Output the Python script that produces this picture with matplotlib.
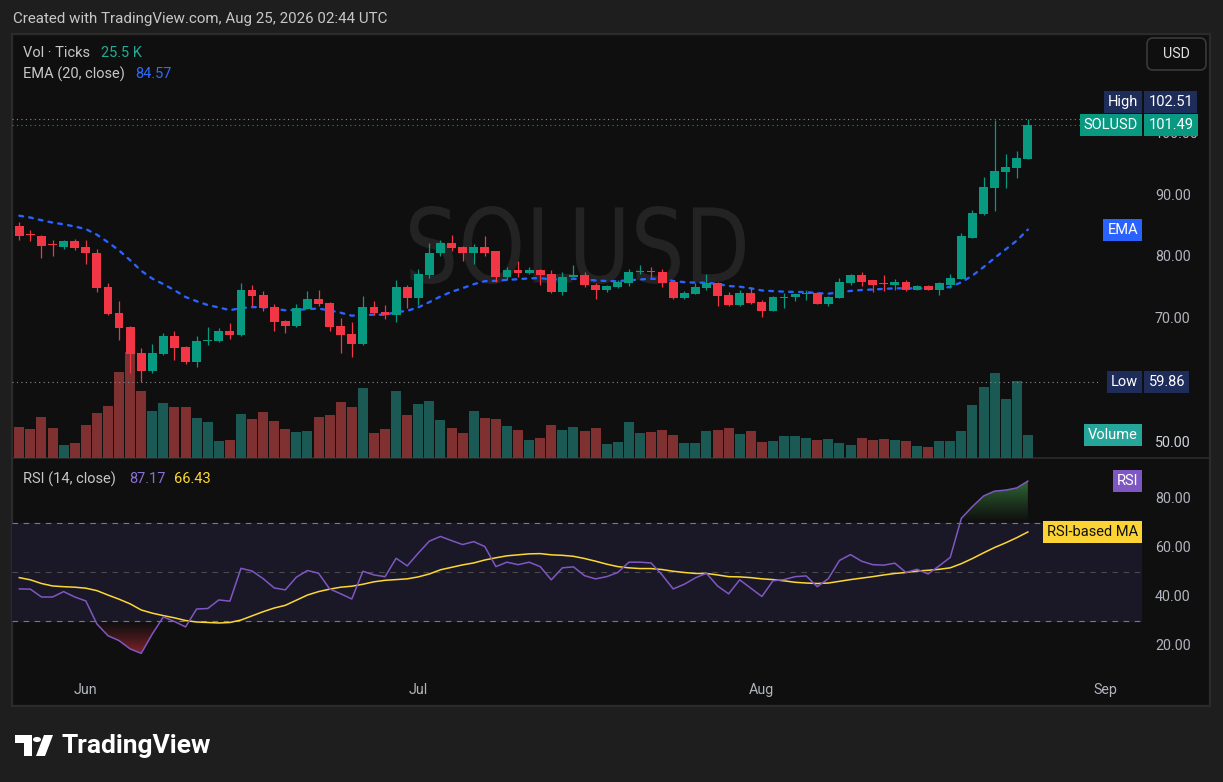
"""
SOLUSD daily chart in TradingView dark style: candles, volume, EMA(20) and RSI(14).
"""

import numpy as np
import pandas as pd
import matplotlib
matplotlib.use("Agg")  # headless
import matplotlib.pyplot as plt
import matplotlib.dates as mdates
from matplotlib.path import Path
from matplotlib.patches import Rectangle, FancyBboxPatch, PathPatch, Polygon, Circle
from matplotlib.lines import Line2D
from matplotlib.textpath import TextPath
from matplotlib.font_manager import FontProperties
from matplotlib.transforms import Affine2D, offset_copy

plt.rcParams["font.family"] = ["Roboto", "DejaVu Sans"]

# ---------------------------------------------------------------- data
start_day = "2026-05-26"

opens = [85.16, 83.75, 83.55, 82.15, 81.77, 82.74, 81.77, 80.8, 75.16, 70.97,
         68.7, 64.5, 61.6, 64.35, 67.26, 65.5, 63.06, 66.4, 66.45, 68.06,
         67.4, 74.7, 73.9, 71.94, 69.7, 68.9, 71.6, 73.2, 72.6, 68.9,
         67.6, 65.97, 71.94, 71.1, 70.65, 75.16, 73.4, 77.1, 80.65, 82.4,
         81.77, 80.65, 81.77, 81.0, 76.77, 77.9, 77.4, 77.9, 77.26, 74.35,
         76.8, 77.1, 75.6, 74.7, 75.16, 75.8, 77.6, 77.75, 77.6, 75.97,
         73.4, 74.0, 75.0, 75.8, 73.9, 72.26, 74.2, 72.7, 71.3, 73.5,
         73.55, 74.1, 74.2, 72.4, 73.4, 75.8, 77.1, 76.3, 75.8, 75.5,
         75.97, 74.8, 75.3, 74.7, 75.6, 76.45, 83.2, 87.1, 91.3, 93.87,
         94.5, 95.97]
highs = [85.8, 84.5, 83.6, 82.9, 82.9, 83.06, 82.9, 81.3, 75.8, 72.9,
         68.9, 65.3, 66.0, 67.7, 68.06, 65.6, 67.26, 68.7, 68.5, 69.35,
         75.8, 75.5, 74.5, 72.4, 69.8, 72.4, 74.5, 74.8, 72.7, 70.16,
         69.5, 73.7, 72.9, 72.26, 76.3, 75.6, 78.06, 82.4, 82.9, 83.7,
         81.9, 82.1, 83.4, 81.1, 78.5, 79.35, 78.5, 78.06, 77.9, 77.6,
         78.7, 77.6, 75.8, 75.5, 76.3, 78.06, 78.7, 78.5, 78.2, 76.1,
         74.5, 75.8, 77.26, 75.97, 74.35, 74.8, 75.0, 73.06, 73.7, 74.2,
         74.2, 74.7, 74.35, 73.7, 76.6, 77.26, 77.6, 76.3, 77.1, 76.45,
         76.3, 75.5, 75.5, 75.97, 77.26, 84.0, 87.7, 93.06, 102.26, 96.77,
         97.26, 102.51]
lows = [82.9, 82.6, 79.9, 80.2, 81.3, 81.2, 78.9, 74.35, 70.7, 66.66,
        61.3, 59.86, 61.3, 64.2, 63.4, 62.74, 62.26, 65.8, 66.3, 66.8,
        67.3, 72.1, 71.3, 68.06, 67.7, 68.7, 71.6, 72.1, 68.06, 64.5,
        63.9, 65.8, 70.65, 70.0, 69.5, 71.8, 72.26, 76.6, 80.2, 81.1,
        79.5, 79.0, 80.2, 76.1, 76.3, 76.9, 77.26, 75.5, 74.2, 73.9,
        76.8, 75.16, 73.2, 74.35, 75.0, 75.3, 77.26, 76.77, 75.16, 73.2,
        73.2, 74.0, 74.8, 72.1, 72.1, 72.1, 72.4, 70.3, 71.3, 71.8,
        72.9, 73.06, 72.4, 72.1, 73.4, 75.5, 75.3, 74.35, 74.5, 74.8,
        74.5, 74.8, 74.7, 73.9, 75.0, 76.45, 83.2, 86.9, 87.6, 91.3,
        92.9, 95.97]
closes = [83.55, 83.65, 81.9, 82.05, 82.74, 81.6, 80.65, 75.0, 70.85, 68.6,
          64.4, 61.6, 64.5, 67.26, 65.3, 63.06, 66.45, 66.5, 68.06, 67.4,
          74.7, 73.7, 71.8, 69.5, 68.9, 71.8, 73.2, 72.4, 68.7, 67.4,
          65.97, 71.94, 70.97, 70.65, 75.16, 73.4, 77.26, 80.8, 82.4, 81.6,
          80.65, 81.77, 80.8, 76.77, 77.9, 77.4, 77.9, 77.1, 74.35, 76.9,
          77.1, 75.5, 74.7, 75.3, 75.97, 77.6, 77.7, 77.7, 75.8, 73.4,
          74.2, 75.16, 75.8, 73.7, 72.26, 74.2, 72.6, 71.3, 73.55, 73.6,
          74.0, 74.2, 72.4, 73.55, 75.97, 77.1, 76.1, 75.6, 75.75, 75.97,
          74.8, 75.3, 74.7, 75.8, 76.6, 83.4, 87.26, 91.45, 94.0, 94.68,
          96.1, 101.49]

# volume in thousands of ticks
volume = [34.4, 32.2, 45.5, 33.3, 14.4, 16.6, 36.6, 49.9, 57.7, 95.4,
          117.5, 74.3, 52.1, 61.0, 56.5, 56.5, 44.4, 39.9, 18.8, 20.0,
          48.8, 43.2, 51.0, 41.0, 32.2, 28.8, 29.9, 45.5, 47.7, 62.1,
          56.5, 77.6, 27.7, 32.2, 74.3, 47.7, 59.9, 63.2, 42.1, 33.3,
          27.7, 52.1, 44.4, 43.2, 35.5, 31.0, 20.0, 22.2, 36.6, 31.0,
          34.4, 29.9, 33.3, 15.5, 17.7, 39.9, 27.7, 28.8, 31.0, 25.5,
          16.6, 16.6, 29.9, 31.0, 33.3, 26.6, 29.9, 17.7, 18.8, 24.4,
          24.4, 22.2, 20.0, 21.1, 16.6, 14.4, 22.2, 20.0, 21.1, 20.0,
          18.8, 13.3, 12.2, 18.8, 18.8, 29.9, 58.8, 78.7, 94.2, 65.4,
          85.4, 25.5]

rsi = [43.2, 43.1, 39.9, 39.9, 42.1, 39.9, 38.3, 28.9, 24.1, 22.1,
       18.7, 16.9, 24.8, 31.8, 29.9, 27.7, 35.0, 35.2, 38.7, 38.2,
       51.6, 50.5, 47.4, 43.6, 42.8, 48.0, 50.7, 49.6, 43.2, 41.2,
       39.1, 50.4, 48.9, 48.2, 55.7, 52.6, 57.8, 62.7, 64.6, 62.9,
       61.3, 62.5, 60.5, 52.3, 54.1, 53.1, 54.1, 52.3, 46.9, 51.8,
       52.2, 48.6, 47.3, 48.2, 49.9, 54.1, 54.1, 53.8, 48.9, 43.2,
       45.1, 47.7, 49.6, 44.4, 41.2, 46.9, 43.5, 40.1, 46.5, 47.0,
       48.2, 48.5, 44.1, 47.4, 54.8, 57.2, 54.5, 53.1, 52.9, 53.7,
       49.9, 51.2, 49.3, 52.6, 56.1, 72.0, 76.8, 81.1, 83.1, 83.5,
       84.4, 87.17]
rsi_ma = [47.8, 46.9, 45.4, 44.4, 44.1, 43.9, 43.5, 42.5, 40.7, 39.0,
          37.1, 34.6, 33.3, 32.3, 31.4, 30.3, 29.7, 29.5, 29.3, 29.5,
          30.5, 32.2, 33.9, 35.4, 36.5, 38.6, 40.7, 42.1, 43.1, 43.9,
          44.3, 45.1, 46.1, 46.7, 47.0, 47.3, 48.1, 49.3, 51.0, 52.0,
          53.0, 53.8, 55.0, 55.9, 56.7, 57.1, 57.5, 57.6, 57.1, 56.9,
          56.5, 55.6, 54.5, 53.3, 52.3, 51.8, 51.5, 51.5, 51.1, 50.4,
          49.9, 49.5, 49.5, 48.9, 48.2, 48.1, 47.8, 47.3, 47.0, 46.5,
          45.9, 45.6, 45.4, 45.6, 46.3, 47.0, 47.6, 48.2, 48.9, 49.5,
          49.9, 50.5, 50.8, 51.2, 51.8, 53.5, 55.6, 57.9, 60.1, 62.0,
          64.1, 66.43]

ema_prev = 87.1          # EMA value on the bar before the first visible one
ema_len = 20
ema_shown = "84.57"      # legend value as printed on the chart
price_ticks = [50, 70, 80, 90, 100]
rsi_ticks = [20, 40, 60, 80]
month_ticks = ["2026-06-01", "2026-07-01", "2026-08-01", "2026-09-01"]
month_labels = ["Jun", "Jul", "Aug", "Sep"]

# ---------------------------------------------------------------- style
W, H = 1223, 782
BG_OUT = "#1e1e1e"
BG_IN = "#0f0f0f"
UP, DOWN = "#089981", "#f23645"
VOL_UP, VOL_DOWN = "#1b5a54", "#7f3030"
GRID_TXT = "#b2b5be"
NAVY = "#1e2c5a"
LEG_FS = 10.5


def fx(px):
    return px / W


def fy(py):
    return 1 - py / H


def tag(axis, y, text, fc, tc="white", side="left", dy=0):
    """Price-scale label box, left of or on the price axis (dy in pixels)."""
    x, ha = (0.9966, "right") if side == "left" else (1.0058, "left")
    tr = offset_copy(axis.get_yaxis_transform(), fig=axis.figure, y=dy, units="dots")
    axis.text(x, y, text, transform=tr, ha=ha, va="center", fontsize=10.5,
              color=tc, zorder=10, clip_on=False,
              bbox=dict(boxstyle="square,pad=0.28", fc=fc, ec="none"))


def gradient_fill(axis, x, y_line, level, where, rgb, dense_at):
    """Fill between a line and a level with a vertical alpha gradient."""
    coll = axis.fill_between(x, y_line, level, where=where, interpolate=True,
                             facecolor="none", edgecolor="none")
    paths = coll.get_paths()
    if not paths:
        return
    clip = Path.make_compound_path(*paths)
    y0, y1 = sorted([level, dense_at])
    a = np.linspace(0, 1, 256)
    if dense_at < level:
        a = a[::-1]
    img = np.zeros((256, 1, 4))
    img[:, 0, :3] = rgb
    img[:, 0, 3] = a ** 1.2
    im = axis.imshow(img, extent=[x[0], x[-1], y0, y1], origin="lower",
                     aspect="auto", zorder=1.5, interpolation="bilinear")
    im.set_clip_path(clip, axis.transData)


dates = pd.date_range(start_day, periods=len(closes), freq="D")
x = mdates.date2num(dates.to_pydatetime())
o, h, l, c = map(np.array, (opens, highs, lows, closes))
up = c >= o

alpha = 2 / (ema_len + 1)
ema = []
for close in closes:
    ema_prev = ema_prev + alpha * (close - ema_prev)
    ema.append(ema_prev)

# ---------------------------------------------------------------- figure
fig = plt.figure(figsize=(W / 100, H / 100), dpi=100, facecolor=BG_OUT)

fig.add_artist(Rectangle((fx(12), fy(706)), (1210 - 12) / W, (706 - 34) / H,
                         transform=fig.transFigure, fc=BG_IN, ec="#2b2b2b",
                         lw=1.6, zorder=-3))
fig.add_artist(Line2D([fx(12), fx(1210)], [fy(458.5)] * 2, color="#2b2b2b",
                      lw=1.2, zorder=-1))

# watermark
tp = TextPath((0, 0), "SOLUSD", size=100, prop=FontProperties(family="DejaVu Sans"))
ext = tp.get_extents()
wm_tr = (Affine2D().translate(-ext.x0, -ext.y0)
         .scale(335 / ext.width, 78 / ext.height).translate(410, H - 284))
fig.add_artist(PathPatch(tp, transform=wm_tr, fc="#232323", ec="none", zorder=-2))

ax_v = fig.add_axes([fx(12), fy(458), (1142 - 12) / W, (458 - 35) / H])
ax = fig.add_axes([fx(12), fy(458), (1142 - 12) / W, (458 - 35) / H], sharex=ax_v)
ax_r = fig.add_axes([fx(12), fy(672), (1142 - 12) / W, (672 - 459) / H], sharex=ax_v)

for a_ in (ax_v, ax, ax_r):
    a_.patch.set_visible(False)
    for s in a_.spines.values():
        s.set_visible(False)
    a_.tick_params(length=0, labelleft=False, labelright=False, labelbottom=False)

# volume
ax_v.bar(x, volume, width=0.9, color=np.where(up, VOL_UP, VOL_DOWN), zorder=1)
ax_v.set_ylim(0, 469)
tag(ax_v, volume[-1], "Volume", "#26a69a")

# candles
body_lo = np.minimum(o, c)
body_h = np.maximum(np.abs(c - o), 0.16)
cols = np.where(up, UP, DOWN)
ax.vlines(x, l, h, colors=cols, lw=0.9, zorder=3)
ax.bar(x, body_h, bottom=body_lo, width=0.8, color=cols, zorder=4)

# EMA
ax.plot(x, ema, color="#2962ff", lw=1.7, ls=(0, (1.6, 2.6)),
        dash_capstyle="round", zorder=2.5)

# high / last / low lines
hi_val, lo_val = max(highs), min(lows)
ax.axhline(hi_val, xmax=0.947, color="#8a8a8a", lw=0.8, ls=(0, (1, 3)), zorder=2)
ax.axhline(closes[-1], xmax=0.947, color=UP, lw=0.8, ls=(0, (1, 3)), zorder=2)
ax.axhline(lo_val, xmax=0.963, color="#8a8a8a", lw=0.8, ls=(0, (1, 3)), zorder=2)

ax.set_ylim(47.5, 116.05)
ax.set_xlim(x[0] - 0.66, x[0] + 101.3)

for p in price_ticks:
    ax.text(1.0115, p, f"{p:.2f}", transform=ax.get_yaxis_transform(),
            ha="left", va="center", fontsize=10.3,
            color="#d1d4dc" if p == 50 else GRID_TXT, zorder=5, clip_on=False)

tag(ax, hi_val, "High", NAVY, dy=16.5)
tag(ax, hi_val, f"{hi_val:.2f}", NAVY, side="right", dy=16.5)
tag(ax, closes[-1], "SOLUSD", UP)
tag(ax, closes[-1], f"{closes[-1]:.2f}", UP, side="right")
tag(ax, ema[-1], "EMA", "#2962ff")
tag(ax, lo_val, "Low", NAVY)
tag(ax, lo_val, f"{lo_val:.2f}", NAVY, side="right")

# RSI panel
ax_r.axhspan(30, 70, color="#1a1826", zorder=0)
ax_r.axhline(70, color="#787b86", lw=0.8, ls=(0, (5, 5)), zorder=1)
ax_r.axhline(30, color="#787b86", lw=0.8, ls=(0, (5, 5)), zorder=1)
ax_r.axhline(50, color="#4a4a4a", lw=0.8, ls=(0, (5, 5)), zorder=1)
r = np.array(rsi)
gradient_fill(ax_r, x, r, 70, r >= 70, (0.20, 0.45, 0.22), 88)
gradient_fill(ax_r, x, r, 30, r <= 30, (0.55, 0.15, 0.18), 16)
ax_r.plot(x, rsi_ma, color="#fdd835", lw=1.1, zorder=3)
ax_r.plot(x, rsi, color="#7e57c2", lw=1.1, zorder=4)
ax_r.set_ylim(9.3, 96.2)
ax_r.set_xlim(x[0] - 0.66, x[0] + 101.3)

for p in rsi_ticks:
    ax_r.text(1.0115, p, f"{p:.2f}", transform=ax_r.get_yaxis_transform(),
              ha="left", va="center", fontsize=10.3, color=GRID_TXT, clip_on=False)
tag(ax_r, rsi[-1], "RSI", "#7e57c2")
tag(ax_r, rsi_ma[-1], "RSI-based MA", "#fbd334", tc="#111111")

ax_r.set_xticks(mdates.date2num(pd.to_datetime(month_ticks).to_pydatetime()))
ax_r.set_xticklabels(month_labels)
ax_r.tick_params(axis="x", labelbottom=True, colors=GRID_TXT, labelsize=10.3, pad=8)

# header, legends, buttons
fig.text(fx(13), fy(19), "Created with TradingView.com, Aug 25, 2026 02:44 UTC",
         color="#c7c7c7", fontsize=10.9, va="center")
fig.text(fx(23), fy(53), "Vol · Ticks", color="#c7c7c7", fontsize=LEG_FS, va="center")
fig.text(fx(101), fy(53), f"{volume[-1]:.1f} K", color="#22ab94", fontsize=LEG_FS, va="center")
fig.text(fx(23), fy(74), "EMA (20, close)", color="#c7c7c7", fontsize=LEG_FS, va="center")
fig.text(fx(135), fy(74), ema_shown, color="#2f6bff", fontsize=LEG_FS, va="center")
fig.text(fx(23), fy(479), "RSI (14, close)", color="#c7c7c7", fontsize=LEG_FS, va="center")
fig.text(fx(129), fy(479), f"{rsi[-1]:.2f}", color="#8c6fd6", fontsize=LEG_FS, va="center")
fig.text(fx(174), fy(479), f"{rsi_ma[-1]:.2f}", color="#fdd835", fontsize=LEG_FS, va="center")

fig.add_artist(FancyBboxPatch((fx(1147), fy(70)), (1206 - 1147) / W, 32 / H,
                              boxstyle="round,pad=0,rounding_size=0.005",
                              mutation_aspect=W / H, transform=fig.transFigure,
                              fc=BG_IN, ec="#3a3a3a", lw=1.2))
fig.text(fx(1176.5), fy(54), "USD", color="#e0e0e0", fontsize=10.3,
         ha="center", va="center")

# TradingView logo
fig.add_artist(Polygon([(fx(15), fy(735)), (fx(32), fy(735)), (fx(32), fy(756)),
                        (fx(24), fy(756)), (fx(24), fy(743)), (fx(15), fy(743))],
                       closed=True, transform=fig.transFigure, fc="white", ec="none"))
fig.add_artist(Circle((fx(37), fy(739.5)), 4 / W, transform=fig.transFigure,
                      fc="white", ec="none"))
fig.add_artist(Polygon([(fx(44), fy(735)), (fx(53), fy(735)), (fx(45), fy(756)),
                        (fx(36), fy(756))], closed=True, transform=fig.transFigure,
                       fc="white", ec="none"))
fig.text(fx(61), fy(745.5), "TradingView", color="white", fontsize=19,
         fontweight="bold", va="center")

fig.savefig("out.png", dpi=100, facecolor=BG_OUT)
